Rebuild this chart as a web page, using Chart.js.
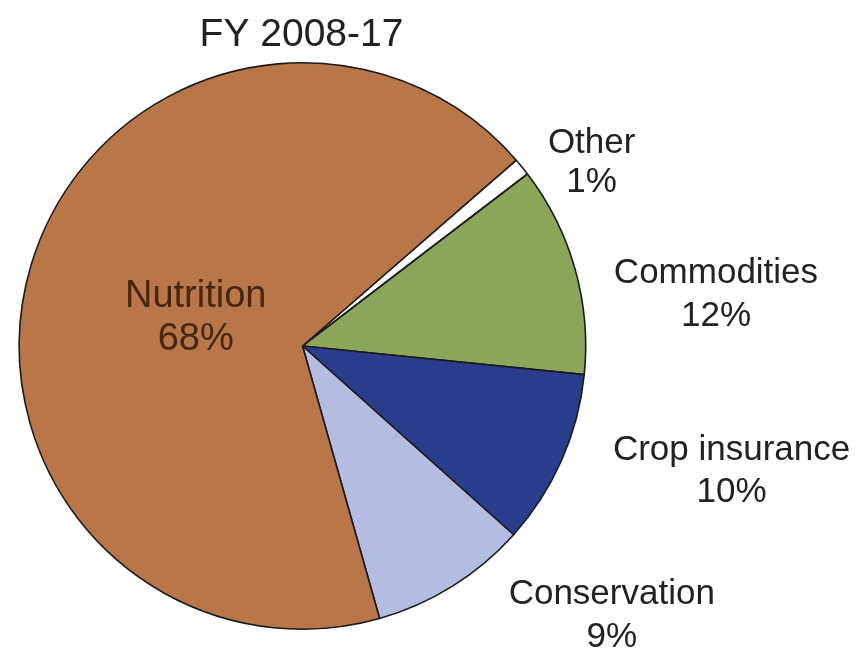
<!DOCTYPE html>
<html>
<head>
<meta charset="utf-8">
<script src="https://cdn.jsdelivr.net/npm/chart.js@4"></script>
<style>
  html, body { margin: 0; padding: 0; background: #ffffff; }
  #wrap { width: 857px; height: 649px; }
</style>
</head>
<body>
<div id="wrap"><canvas id="c" width="857" height="649"></canvas></div>
<script>
// ---- data ----
const categories = ['Other', 'Commodities', 'Crop insurance', 'Conservation', 'Nutrition'];
const shares = [1, 12, 10, 9, 68];
const chartTitle = 'FY 2008-17';

// ---- styles ----
const sliceColors = ['#ffffff', '#8CA55B', '#2A3D8D', '#B4BCE1', '#B97749'];
// label anchors (first-line baseline) relative to pie centre, in units of radius
const labelAnchors = [
  { dx: 1.021, dy: -0.680, gap: 39, size: 35, color: '#222222' },
  { dx: 1.460, dy: -0.222, gap: 43, size: 35, color: '#222222' },
  { dx: 1.515, dy: 0.401, gap: 42, size: 35, color: '#222222' },
  { dx: 1.092, dy: 0.912, gap: 43, size: 35, color: '#222222' },
  { dx: -0.377, dy: -0.137, gap: 43, size: 38, color: '#45260F' }
];
const FONT = '"Liberation Sans", Arial, Helvetica, sans-serif';

const labelPlugin = {
  id: 'sliceLabels',
  afterDraw(chart) {
    const ctx = chart.ctx;
    const meta = chart.getDatasetMeta(0);
    const arc0 = meta.data[0];
    const cx = arc0.x, cy = arc0.y, r = arc0.outerRadius;
    ctx.save();
    ctx.textAlign = 'center';
    ctx.textBaseline = 'alphabetic';
    categories.forEach((name, i) => {
      const a = labelAnchors[i];
      const x = cx + a.dx * r;
      const y = cy + a.dy * r;
      ctx.fillStyle = a.color;
      ctx.font = a.size + 'px ' + FONT;
      ctx.fillText(name, x, y);
      ctx.fillText(shares[i] + '%', x, y + a.gap);
    });
    // title
    ctx.fillStyle = '#222222';
    ctx.font = '39px ' + FONT;
    ctx.fillText(chartTitle, cx - 1, cy - r - 17);
    ctx.restore();
  }
};

new Chart(document.getElementById('c'), {
  type: 'pie',
  data: {
    labels: categories,
    datasets: [{
      data: shares,
      backgroundColor: sliceColors,
      borderColor: '#1b1b1b',
      borderWidth: 1.6
    }]
  },
  options: {
    responsive: false,
    animation: false,
    rotation: 49,
    layout: { padding: { left: 18, top: 62, right: 270, bottom: 19 } },
    plugins: {
      legend: { display: false },
      tooltip: { enabled: false },
      title: { display: false }
    }
  },
  plugins: [labelPlugin]
});
</script>
</body>
</html>
